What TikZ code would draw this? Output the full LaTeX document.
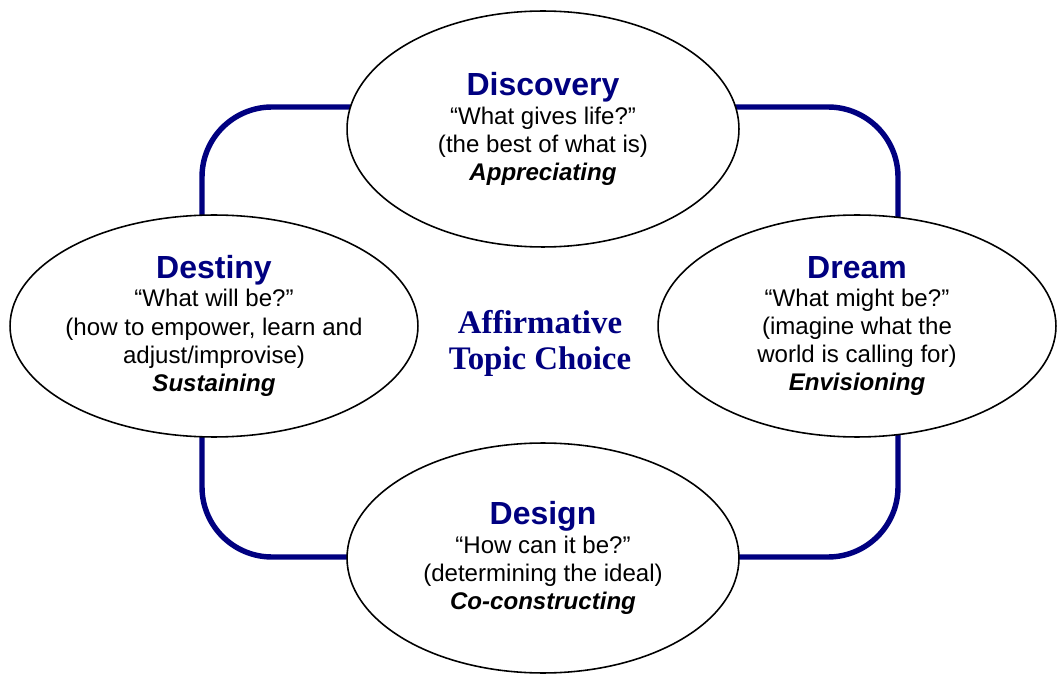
\documentclass[tikz,border=0pt]{standalone}
\usepackage{fontspec}
\setmainfont{Liberation Sans}
\newfontfamily\topicfont{Liberation Serif}
\usepackage{xcolor}
\usetikzlibrary{shapes.geometric}
\definecolor{navy}{RGB}{0,0,128}
\newcommand{\phasehead}[1]{{\fontsize{18.2}{20}\selectfont\bfseries\color{navy}#1}}
\newcommand{\phaseverb}[1]{{\bfseries\itshape #1}}
\tikzset{
  phase/.style={ellipse,draw=black,line width=0.9pt,fill=white,inner sep=0pt,
    align=center,font=\fontsize{13.7}{16}\selectfont},
  cycle/.style={draw=navy,line width=3.1pt,rounded corners=1.4cm}
}

\begin{document}
\begin{tikzpicture}[x=0.02cm,y=-0.02cm]
        \useasboundingbox (0,0) rectangle (1058,675);
        % loop behind the four phases
        \draw[cycle] (202,107) rectangle (898,557);
        \node[phase,minimum width=7.84cm,minimum height=4.72cm] (discovery) at (543,129)
          {\phasehead{Discovery}\\``What gives life?''\\(the best of what is)\\\phaseverb{Appreciating}};
        % wide text lines, so let them reach past the ellipse's text box
        \node[phase,inner xsep=-5pt,minimum width=8.16cm,minimum height=4.44cm] (destiny) at (214,326)
          {\phasehead{Destiny}\\``What will be?''\\(how to empower, learn and\\adjust/improvise)\\\phaseverb{Sustaining}};
        \node[phase,minimum width=7.96cm,minimum height=4.44cm] (dream) at (857,326)
          {\phasehead{Dream}\\``What might be?''\\(imagine what the\\world is calling for)\\\phaseverb{Envisioning}};
        \node[phase,minimum width=7.84cm,minimum height=4.6cm] (design) at (543,558)
          {\phasehead{Design}\\``How can it be?''\\(determining the ideal)\\\phaseverb{Co-constructing}};
        \node[align=center,text=navy,font=\topicfont\bfseries\fontsize{18.7}{20.5}\selectfont] (topic) at (540,343)
          {Affirmative\\Topic Choice};
\end{tikzpicture}
\end{document}
